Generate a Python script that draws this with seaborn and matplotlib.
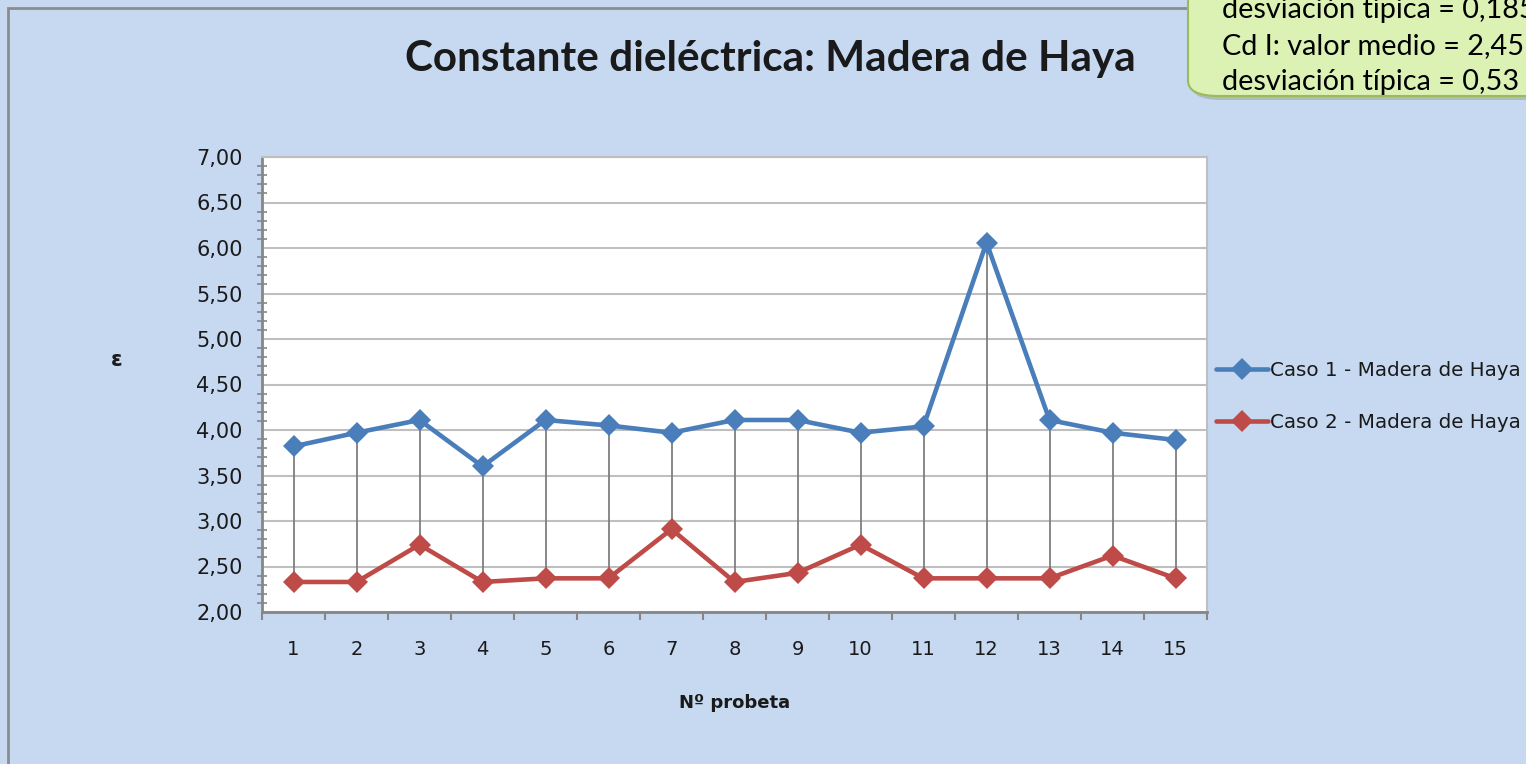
import seaborn as sns
import numpy as np
import matplotlib.pyplot as plt
import pandas as pd
from matplotlib.patches import FancyBboxPatch, Rectangle
from matplotlib.ticker import MultipleLocator, FuncFormatter

# datos
probetas = list(range(1, 16))
caso1 = [3.82, 3.97, 4.11, 3.60, 4.11, 4.05, 3.97, 4.11, 4.11, 3.97, 4.04, 6.06, 4.11, 3.97, 3.89]
caso2 = [2.33, 2.33, 2.74, 2.33, 2.37, 2.37, 2.91, 2.33, 2.43, 2.74, 2.37, 2.37, 2.37, 2.62, 2.37]
series = ["Caso 1 - Madera de Haya", "Caso 2 - Madera de Haya"]
callout = ["desviación típica = 0,185", "Cd I: valor medio = 2,45", "desviación típica = 0,53"]

df = pd.DataFrame({"probeta": probetas * 2,
                   "eps": caso1 + caso2,
                   "serie": [series[0]] * 15 + [series[1]] * 15})

sns.set_style("white")
plt.rcParams['font.family'] = ['DejaVu Sans']
calibri = ['Lato', 'DejaVu Sans']

bg = "#C6D9F1"
txt = "#1a1a1a"
fig = plt.figure(figsize=(15.26, 7.64), dpi=100)
fig.patch.set_facecolor(bg)

# marco del area del grafico
fig.add_artist(Rectangle((8 / 1526, -0.1), 1.2, 1 - 8 / 764 + 0.1, transform=fig.transFigure,
                         facecolor="none", edgecolor="#8C8C8C", lw=2))

ax = fig.add_axes([262 / 1526, 1 - 612 / 764, 945 / 1526, 455 / 764])
ax.set_facecolor("white")

# lineas max-min entre series
ax.vlines(probetas, caso2, caso1, color="#7F7F7F", lw=1.3, zorder=2)

sns.lineplot(data=df, x="probeta", y="eps", hue="serie", palette=["#4A7EBB", "#BE4B48"],
             marker="D", markersize=11, markeredgewidth=0, lw=3.3, ax=ax, zorder=3)

ax.set_xlim(0.5, 15.5)
ax.set_ylim(2, 7)
ax.yaxis.set_major_locator(MultipleLocator(0.5))
ax.yaxis.set_minor_locator(MultipleLocator(0.1))
ax.yaxis.set_major_formatter(FuncFormatter(lambda v, p: f"{v:.2f}".replace(".", ",")))
ax.set_xticks(probetas)
ax.set_xticks(np.arange(0.5, 16, 1), minor=True)
ax.grid(axis="y", which="major", color="#BFBFBF", lw=1.5)
ax.tick_params(axis="y", which="major", direction="inout", length=10, width=1.5,
               color="#868686", labelsize=15, labelcolor=txt, pad=9)
ax.tick_params(axis="y", which="minor", direction="inout", length=7, width=1.2,
               color="#868686", left=True)
ax.tick_params(axis="x", which="major", length=0, labelsize=14, labelcolor=txt, pad=20)
ax.tick_params(axis="x", which="minor", direction="out", length=6, width=1.5,
               color="#868686", bottom=True)
for s in ["left", "bottom"]:
    ax.spines[s].set_color("#868686")
    ax.spines[s].set_linewidth(2)
for s in ["top", "right"]:
    ax.spines[s].set_color("#BFBFBF")
    ax.spines[s].set_linewidth(1.5)

ax.set_xlabel("Nº probeta", fontsize=13, fontweight="bold", labelpad=25, color=txt)
ax.set_ylabel("")
fig.text(117 / 1526, 1 - 360 / 764, "ε", fontsize=15, fontweight="bold",
         ha="center", va="center", color=txt)

fig.text(770 / 1526, 1 - 59 / 764, "Constante dieléctrica: Madera de Haya",
         fontsize=30.4, fontweight="bold", ha="center", va="center", color=txt,
         family=calibri)

leg = ax.legend(loc="center left", bbox_to_anchor=(0.995, 0.474), frameon=False,
                fontsize=14.3, handlelength=2.6, handletextpad=0.1, labelspacing=1.65,
                borderaxespad=0.3)
for t in leg.get_texts():
    t.set_color(txt)

# recuadro de comentario (cortado)
fig.add_artist(FancyBboxPatch((1191 / 1526, 1 - 100 / 764), 0.3, 0.3,
                              boxstyle="round,pad=0,rounding_size=0.02",
                              transform=fig.transFigure, facecolor="#8f9a80",
                              edgecolor="none", alpha=0.45, zorder=4))
fig.add_artist(FancyBboxPatch((1188 / 1526, 1 - 96 / 764), 0.3, 0.3,
                              boxstyle="round,pad=0,rounding_size=0.02",
                              transform=fig.transFigure, facecolor="#DCF1B4",
                              edgecolor="#9BBB59", lw=1.5, zorder=5))
for i, t in enumerate(callout):
    fig.text(1222 / 1526, 1 - (10 + 36 * i) / 764, t, fontsize=20.8, ha="left",
             va="center", zorder=6, color="black", family=calibri)

fig.savefig("out.png", dpi=100, facecolor=bg)
